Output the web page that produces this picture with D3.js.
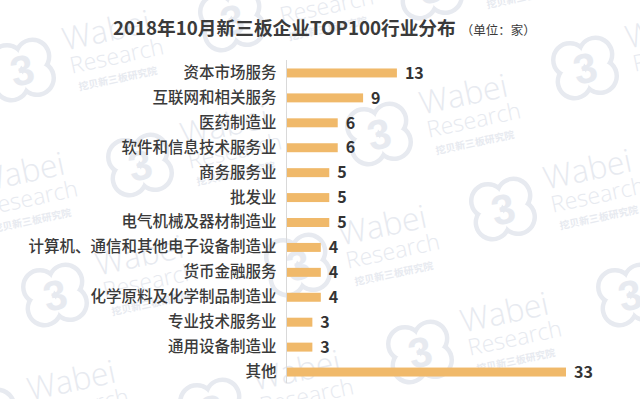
<!DOCTYPE html>
<html>
<head>
<meta charset="utf-8">
<script src="https://cdn.jsdelivr.net/npm/d3@7"></script>
<style>
  body { margin: 0; background: #fff; }
  svg { display: block; font-family: "Noto Sans CJK SC", "Noto Sans", sans-serif; }
</style>
</head>
<body>
<script>
var categories = ['资本市场服务', '互联网和相关服务', '医药制造业', '软件和信息技术服务业', '商务服务业', '批发业',
    '电气机械及器材制造业', '计算机、通信和其他电子设备制造业', '货币金融服务', '化学原料及化学制品制造业',
    '专业技术服务业', '通用设备制造业', '其他'];
var counts = [13, 9, 6, 6, 5, 5, 5, 4, 4, 4, 3, 3, 33];

var title = '2018年10月新三板企业TOP100行业分布';
var unitText = '（单位：家）';

// watermark logo centres
var marks = [[22, 70], [232, 20], [430, -12], [585, 68], [379, 134], [-64, 212], [140, 165],
    [298, 265], [503, 209], [55, 295], [420, 352], [212, 410], [630, 295], [-13, 420]];

var width = 640;
var height = 399;

var svg = d3.select('body').append('svg')
    .attr('width', width)
    .attr('height', height);

// faint "Wabei Research" watermarks behind the chart
var wmColor = '#e7eaf0';
var wm = svg.append('g').selectAll('g')
    .data(marks)
    .join('g')
    .attr('transform', function (d) {
        return 'translate(' + d[0] + ',' + d[1] + ') rotate(-12)';
    });

var lobes = [[-13, -11], [13, -11], [-13, 11], [13, 11]];
lobes.forEach(function (l) {
    wm.append('circle').attr('cx', l[0]).attr('cy', l[1]).attr('r', 19).attr('fill', wmColor);
});
lobes.forEach(function (l) {
    wm.append('circle').attr('cx', l[0]).attr('cy', l[1]).attr('r', 14.5).attr('fill', '#fff');
});
wm.append('text')
    .attr('x', 0).attr('y', 15)
    .attr('text-anchor', 'middle')
    .style('font-family', 'Liberation Sans, sans-serif')
    .style('font-size', '42px')
    .style('font-weight', 'bold')
    .attr('fill', wmColor)
    .text('3');
wm.append('text')
    .attr('x', 46).attr('y', -10)
    .style('font-family', '"Open Sans", sans-serif')
    .style('font-size', '32px')
    .style('font-weight', 300)
    .attr('fill', wmColor)
    .text('Wabei');
wm.append('text')
    .attr('x', 48).attr('y', 14)
    .style('font-family', '"Open Sans", sans-serif')
    .style('font-size', '23px')
    .style('font-weight', 300)
    .attr('fill', wmColor)
    .text('Research');
wm.append('text')
    .attr('x', 52).attr('y', 32)
    .style('font-size', '10px')
    .style('font-weight', 'bold')
    .attr('fill', wmColor)
    .text('挖贝新三板研究院');

// title
var t = svg.append('text')
    .attr('x', 113)
    .attr('y', 35)
    .attr('fill', '#3a3a3a');
t.append('tspan')
    .style('font-size', '18.7px')
    .style('font-weight', 'bold')
    .text(title);
t.append('tspan')
    .attr('dx', 5)
    .style('font-size', '12.5px')
    .text(unitText);

var x = d3.scaleLinear()
    .domain([0, 33])
    .range([287, 566]);

var y = d3.scaleBand()
    .domain(categories)
    .range([60.5, 384.5])
    .paddingInner(0.64)
    .paddingOuter(0.32);

var data = categories.map(function (c, i) {
    return { name: c, value: counts[i] };
});

svg.append('g')
    .selectAll('rect')
    .data(data)
    .join('rect')
    .attr('x', x(0))
    .attr('y', function (d) { return y(d.name); })
    .attr('width', function (d) { return x(d.value) - x(0); })
    .attr('height', y.bandwidth())
    .attr('fill', '#f0b96a');

var yaxis = d3.axisLeft(y).tickSize(0).tickPadding(10);
svg.append('g')
    .classed('yaxis', true)
    .attr('transform', 'translate(' + 286.5 + ',0)')
    .call(yaxis)
    .call(function (g) {
        g.select('.domain').attr('stroke', '#d9d9d9').attr('d', 'M0,60V383');
        g.selectAll('text')
            .attr('fill', '#3a3a3a')
            .style('font-size', '15.5px')
            .style('font-weight', 500)
            .style('font-family', '"Noto Sans CJK SC", sans-serif');
    });

svg.append('g')
    .selectAll('text')
    .data(data)
    .join('text')
    .attr('x', function (d) { return x(d.value) + 8; })
    .attr('y', function (d) { return y(d.name) + y.bandwidth() / 2; })
    .attr('dy', '0.36em')
    .attr('fill', '#333')
    .style('font-size', '16px')
    .style('font-weight', 'bold')
    .text(function (d) { return d.value; });
</script>
</body>
</html>
